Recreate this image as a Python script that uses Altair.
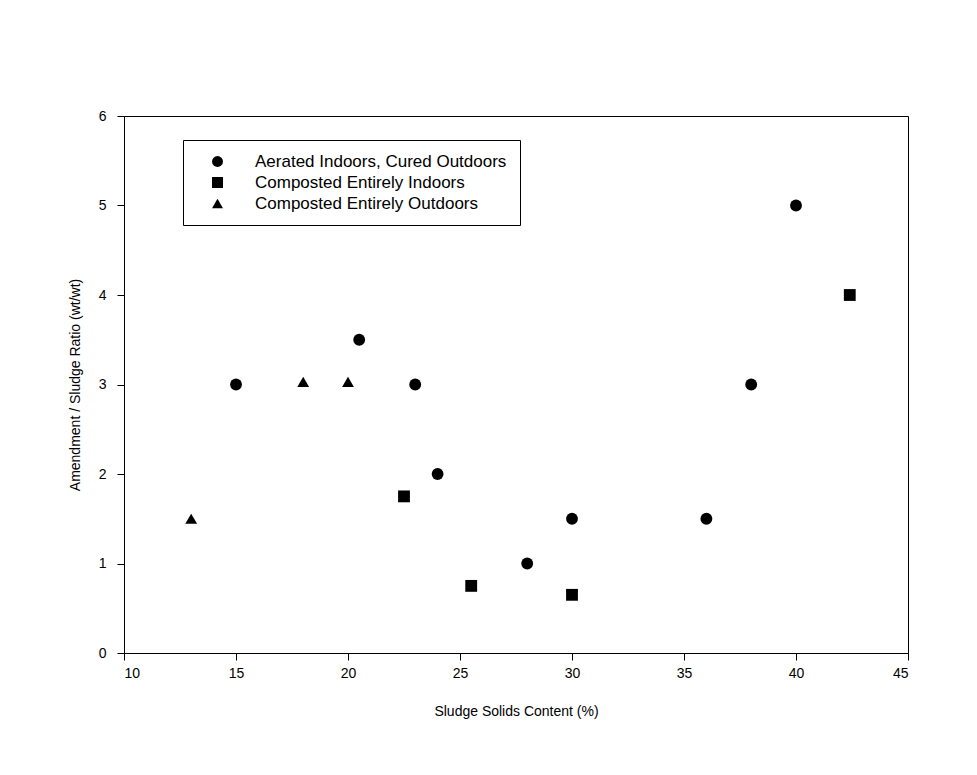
import altair as alt
import pandas as pd

series_names = ["Aerated Indoors, Cured Outdoors",
                "Composted Entirely Indoors",
                "Composted Entirely Outdoors"]

aer_x = [15, 20.5, 23, 24, 28, 30, 36, 38, 40]
aer_y = [3.0, 3.5, 3.0, 2.0, 1.0, 1.5, 1.5, 3.0, 5.0]
ind_x = [22.5, 25.5, 30, 42.4]
ind_y = [1.75, 0.75, 0.65, 4.0]
out_x = [13, 18, 20]
out_y = [1.5, 3.03, 3.03]

x_ticks = [10, 15, 20, 25, 30, 35, 40, 45]
y_ticks = [0, 1, 2, 3, 4, 5, 6]

rows = []
for xs, ys, name in [(aer_x, aer_y, series_names[0]),
                     (ind_x, ind_y, series_names[1]),
                     (out_x, out_y, series_names[2])]:
    for xv, yv in zip(xs, ys):
        rows.append({"x": xv, "y": yv, "series": name})
df = pd.DataFrame(rows)

FONT = "Liberation Sans"

chart = alt.Chart(df).mark_point(filled=True, opacity=1, color="black", size=140).encode(
    x=alt.X("x:Q", title="Sludge Solids Content (%)",
            scale=alt.Scale(domain=[10, 45], nice=False, zero=False),
            axis=alt.Axis(values=x_ticks, format="d", grid=False, tickSize=7,
                          labelPadding=6, titlePadding=24)),
    y=alt.Y("y:Q", title="Amendment / Sludge Ratio (wt/wt)",
            scale=alt.Scale(domain=[0, 6], nice=False),
            axis=alt.Axis(values=y_ticks, format="d", grid=False, tickSize=7,
                          labelPadding=11, titlePadding=16)),
    shape=alt.Shape("series:N",
                    scale=alt.Scale(domain=series_names,
                                    range=["circle", "square", "triangle-up"]),
                    legend=alt.Legend(title=None, orient="none", legendX=59, legendY=24,
                                      strokeColor="black", fillColor="white",
                                      padding=13, symbolOffset=13, labelOffset=29,
                                      labelFontSize=17, labelFont=FONT, labelColor="black",
                                      symbolSize=120, symbolFillColor="black",
                                      symbolStrokeColor="black",
                                      rowPadding=3, labelLimit=400)),
).properties(
    width=784,
    height=537,
    background="white",
    autosize=alt.AutoSizeParams(type="none"),
    padding={"left": 116, "top": 108, "right": 55, "bottom": 110},
).configure_view(
    stroke="black", strokeWidth=1
).configure_axis(
    domainColor="black", tickColor="black", labelColor="black", titleColor="black",
    labelFont=FONT, titleFont=FONT, labelFontSize=14, titleFontSize=14,
    titleFontWeight="normal", domainWidth=1, tickWidth=1
)

chart.save("out.html", embed_options={"renderer": "svg", "actions": False})
